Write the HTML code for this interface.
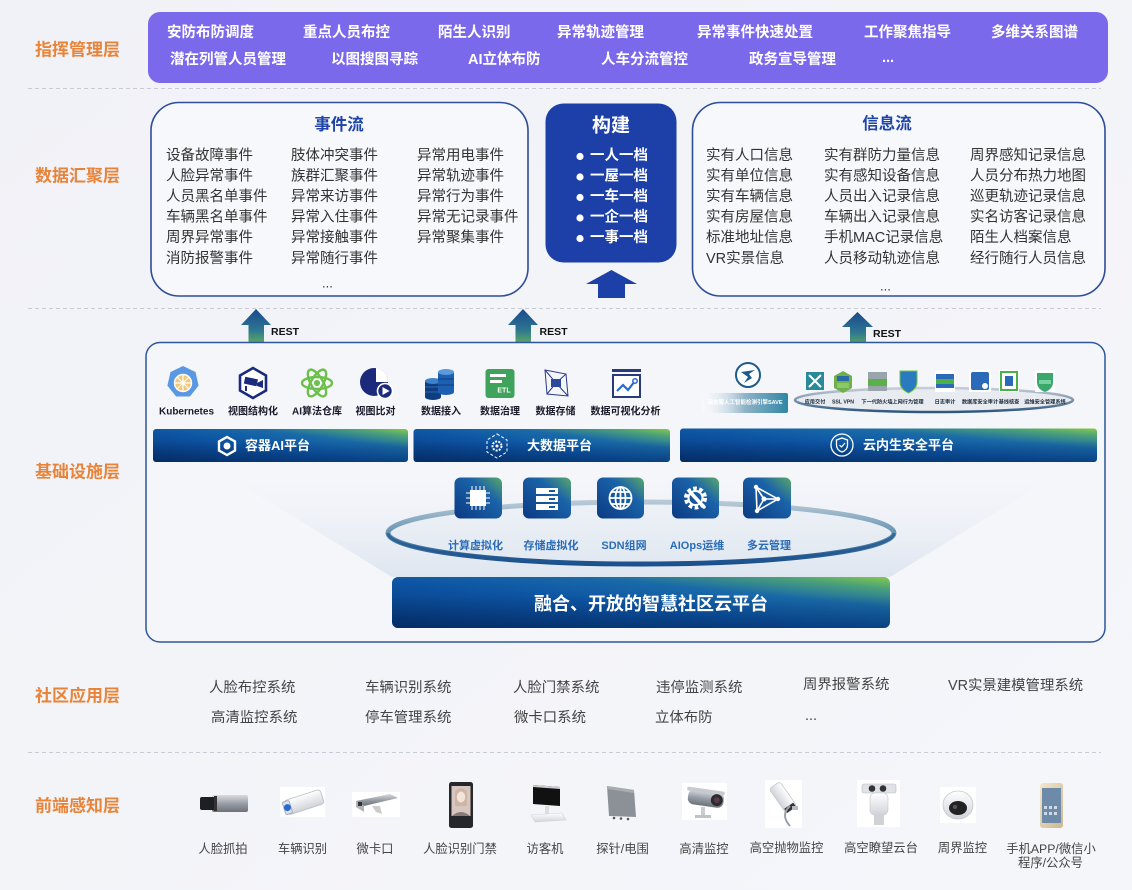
<!DOCTYPE html>
<html><head><meta charset="utf-8">
<style>
html,body{margin:0;padding:0;background:#f3f4f9;}
svg{display:block;font-family:"Liberation Sans","Noto Sans CJK SC",sans-serif;}
</style></head>
<body>
<svg width="1132" height="890" viewBox="0 0 1132 890" xmlns="http://www.w3.org/2000/svg">
<defs>
<linearGradient id="bg" x1="0" y1="0" x2="1" y2="1"><stop offset="0" stop-color="#f1f2f7"/><stop offset="1" stop-color="#f5f6fa"/></linearGradient>
<linearGradient id="restG" x1="0" y1="0" x2="0" y2="1"><stop offset="0" stop-color="#1a4a8e"/><stop offset="0.5" stop-color="#2c7590"/><stop offset="1" stop-color="#74c24c"/></linearGradient>
<linearGradient id="barG" x1="0" y1="1" x2="1" y2="0"><stop offset="0" stop-color="#073678"/><stop offset="0.45" stop-color="#0d54a3"/><stop offset="0.7" stop-color="#1a6aa8"/><stop offset="0.88" stop-color="#4aa07a"/><stop offset="1" stop-color="#86c94c"/></linearGradient>
<linearGradient id="barShade" x1="0" y1="0" x2="0" y2="1"><stop offset="0.35" stop-color="#001a45" stop-opacity="0"/><stop offset="1" stop-color="#001a45" stop-opacity="0.35"/></linearGradient>
<linearGradient id="sqG" x1="1" y1="0" x2="0" y2="1"><stop offset="0" stop-color="#5aa868"/><stop offset="0.35" stop-color="#1b63a9"/><stop offset="1" stop-color="#0b3a82"/></linearGradient>
<linearGradient id="ringS" x1="0" y1="0" x2="0" y2="1"><stop offset="0" stop-color="#b8c9d6"/><stop offset="0.55" stop-color="#5e8fae"/><stop offset="1" stop-color="#184c8a"/></linearGradient>
<linearGradient id="ringF" x1="0" y1="0" x2="0" y2="1"><stop offset="0" stop-color="#eef2f7"/><stop offset="1" stop-color="#e1e8f1"/></linearGradient>
<linearGradient id="fanG" x1="0" y1="0" x2="0" y2="1"><stop offset="0" stop-color="#e8edf5" stop-opacity="0"/><stop offset="1" stop-color="#d6e0ec" stop-opacity="0.75"/></linearGradient>
<linearGradient id="secS" x1="0" y1="0" x2="0" y2="1"><stop offset="0" stop-color="#c5ced8"/><stop offset="1" stop-color="#2e5880"/></linearGradient>
<linearGradient id="saveG" x1="0" y1="0" x2="1" y2="0"><stop offset="0" stop-color="#ffffff" stop-opacity="0.2"/><stop offset="0.5" stop-color="#8fb3c8"/><stop offset="1" stop-color="#2f86a6"/></linearGradient>
<linearGradient id="silver" x1="0" y1="0" x2="0" y2="1"><stop offset="0" stop-color="#d8dbe0"/><stop offset="0.5" stop-color="#9a9fa7"/><stop offset="1" stop-color="#6d727a"/></linearGradient>
<linearGradient id="white" x1="0" y1="0" x2="0" y2="1"><stop offset="0" stop-color="#ffffff"/><stop offset="1" stop-color="#cfd3d9"/></linearGradient>
<linearGradient id="gold" x1="0" y1="0" x2="1" y2="1"><stop offset="0" stop-color="#f2e6cf"/><stop offset="1" stop-color="#cdb88f"/></linearGradient>
</defs>

<rect x="0" y="0" width="1132" height="890" fill="url(#bg)"/>

<g stroke="#c9ccd4" stroke-width="1" stroke-dasharray="4 3">
<line x1="28" y1="88.5" x2="1101" y2="88.5"/>
<line x1="28" y1="308.5" x2="1101" y2="308.5"/>
<line x1="28" y1="752.5" x2="1101" y2="752.5"/>
</g>

<g fill="#e8843a" font-size="17" font-weight="bold" dominant-baseline="central">
<text x="35" y="50">指挥管理层</text>
<text x="35" y="176">数据汇聚层</text>
<text x="35" y="472">基础设施层</text>
<text x="35" y="696">社区应用层</text>
<text x="35" y="806">前端感知层</text>
</g>

<rect x="148" y="12" width="960" height="71" rx="12" fill="#7b69eb"/>
<g fill="#ffffff" font-size="14.5" font-weight="bold" dominant-baseline="central">
<text x="167" y="33">安防布防调度</text>
<text x="303" y="33">重点人员布控</text>
<text x="438" y="33">陌生人识别</text>
<text x="557" y="33">异常轨迹管理</text>
<text x="697" y="33">异常事件快速处置</text>
<text x="864" y="33">工作聚焦指导</text>
<text x="991" y="33">多维关系图谱</text>
<text x="170" y="60">潜在列管人员管理</text>
<text x="331" y="60">以图搜图寻踪</text>
<text x="468" y="60">AI立体布防</text>
<text x="601" y="60">人车分流管控</text>
<text x="749" y="60">政务宣导管理</text>
<text x="882" y="58">...</text>
</g>

<rect x="151" y="102.5" width="377" height="193.5" rx="28" fill="#f7f8fc" stroke="#2f4d98" stroke-width="1.6"/>
<text x="339" y="125" fill="#1f45a8" font-size="16.5" font-weight="bold" text-anchor="middle" dominant-baseline="central">事件流</text>
<g fill="#333" font-size="14.5" dominant-baseline="central">
<text x="166" y="156">设备故障事件</text><text x="166" y="176.5">人脸异常事件</text><text x="166" y="197">人员黑名单事件</text><text x="166" y="217.5">车辆黑名单事件</text><text x="166" y="238">周界异常事件</text><text x="166" y="259">消防报警事件</text>
<text x="291" y="156">肢体冲突事件</text><text x="291" y="176.5">族群汇聚事件</text><text x="291" y="197">异常来访事件</text><text x="291" y="217.5">异常入住事件</text><text x="291" y="238">异常接触事件</text><text x="291" y="259">异常随行事件</text>
<text x="417" y="156">异常用电事件</text><text x="417" y="176.5">异常轨迹事件</text><text x="417" y="197">异常行为事件</text><text x="417" y="217.5">异常无记录事件</text><text x="417" y="238">异常聚集事件</text>
<text x="322" y="283" font-size="13">...</text>
</g>

<rect x="545.5" y="103.5" width="131" height="159" rx="18" fill="#1d3fa8"/>
<text x="611" y="126" fill="#fff" font-size="19" font-weight="bold" text-anchor="middle" dominant-baseline="central">构建</text>
<g fill="#fff">
<circle cx="580" cy="156.5" r="3.6"/><circle cx="580" cy="177" r="3.6"/><circle cx="580" cy="197.5" r="3.6"/><circle cx="580" cy="218" r="3.6"/><circle cx="580" cy="238.5" r="3.6"/>
</g>
<g fill="#fff" font-size="14.5" font-weight="bold" dominant-baseline="central">
<text x="590" y="156">一人一档</text><text x="590" y="176.5">一屋一档</text><text x="590" y="197">一车一档</text><text x="590" y="217.5">一企一档</text><text x="590" y="238">一事一档</text>
</g>
<polygon points="611.5,270 637,284 625,284 625,298 598,298 598,284 586,284" fill="#1d3fa8"/>

<rect x="692.5" y="102.5" width="412.5" height="193.5" rx="28" fill="#f7f8fc" stroke="#2f4d98" stroke-width="1.6"/>
<text x="887" y="124" fill="#1f45a8" font-size="16.5" font-weight="bold" text-anchor="middle" dominant-baseline="central">信息流</text>
<g fill="#333" font-size="14.5" dominant-baseline="central">
<text x="706" y="156">实有人口信息</text><text x="706" y="176.5">实有单位信息</text><text x="706" y="197">实有车辆信息</text><text x="706" y="217.5">实有房屋信息</text><text x="706" y="238">标准地址信息</text><text x="706" y="259">VR实景信息</text>
<text x="824" y="156">实有群防力量信息</text><text x="824" y="176.5">实有感知设备信息</text><text x="824" y="197">人员出入记录信息</text><text x="824" y="217.5">车辆出入记录信息</text><text x="824" y="238">手机MAC记录信息</text><text x="824" y="259">人员移动轨迹信息</text>
<text x="970" y="156">周界感知记录信息</text><text x="970" y="176.5">人员分布热力地图</text><text x="970" y="197">巡更轨迹记录信息</text><text x="970" y="217.5">实名访客记录信息</text><text x="970" y="238">陌生人档案信息</text><text x="970" y="259">经行随行人员信息</text>
<text x="880" y="286" font-size="13">...</text>
</g>

<polygon points="256,309 271,325 264,325 264,350 248.5,350 248.5,325 241,325" fill="url(#restG)"/>
<polygon points="523,309 538,325 531,325 531,350 515.5,350 515.5,325 508,325" fill="url(#restG)"/>
<polygon points="857.5,312 873,327 866,327 866,352 850,352 850,327 842,327" fill="url(#restG)"/>
<g fill="#111" font-size="10.5" font-weight="bold" dominant-baseline="central">
<text x="271" y="332">REST</text><text x="539.5" y="332">REST</text><text x="873" y="334">REST</text>
</g>

<rect x="146" y="342.5" width="959" height="299.5" rx="14" fill="#f5f6fa" stroke="#2d5798" stroke-width="1.5"/>

<polygon points="183,366 195.5,372 198.6,385.6 189.9,396.5 176.1,396.5 167.4,385.6 170.5,372" fill="#5a98e4"/>
<circle cx="183" cy="383" r="8.5" fill="#f3c77a" stroke="#fff" stroke-width="1.4"/>
<g stroke="#fff" stroke-width="1.2"><line x1="183" y1="374" x2="183" y2="392"/><line x1="174" y1="383" x2="192" y2="383"/><line x1="177" y1="377" x2="189" y2="389"/><line x1="189" y1="377" x2="177" y2="389"/></g>
<polygon points="253,368 266,375.5 266,390.5 253,398 240,390.5 240,375.5" fill="#fff" stroke="#1b2a7a" stroke-width="2.6"/>
<rect x="244.5" y="378" width="13" height="7" fill="#1b2a7a" transform="rotate(12 251 381)"/>
<polygon points="257,383 263,380 263,388 257,386" fill="#1b2a7a"/>
<rect x="245" y="386" width="2" height="5" fill="#1b2a7a"/>
<g fill="none" stroke="#6cc04a" stroke-width="2.4">
<ellipse cx="317" cy="383" rx="15" ry="6"/>
<ellipse cx="317" cy="383" rx="15" ry="6" transform="rotate(60 317 383)"/>
<ellipse cx="317" cy="383" rx="15" ry="6" transform="rotate(120 317 383)"/>
</g>
<circle cx="317" cy="383" r="3" fill="#6cc04a"/>
<circle cx="374" cy="382" r="14" fill="#1b2a7a"/>
<path d="M376,368 A14,14 0 0 1 388,382 L376,382 Z" fill="#fff"/>
<circle cx="385" cy="391" r="7.5" fill="#1b2a7a" stroke="#fff" stroke-width="1.6"/>
<polygon points="382.5,387 389.5,391 382.5,395" fill="#fff"/>
<g>
<rect x="425" y="381" width="16" height="16" fill="#0f3d80"/><ellipse cx="433" cy="397" rx="8" ry="3" fill="#0f3d80"/><ellipse cx="433" cy="381" rx="8" ry="3" fill="#3e82cc"/>
<line x1="425" y1="387" x2="441" y2="387" stroke="#2a6ab8" stroke-width="1"/><line x1="425" y1="392" x2="441" y2="392" stroke="#2a6ab8" stroke-width="1"/>
<rect x="438" y="372" width="16" height="20" fill="#1d5fb0"/><ellipse cx="446" cy="392" rx="8" ry="3" fill="#1d5fb0"/><ellipse cx="446" cy="372" rx="8" ry="3" fill="#5a9ade"/>
<line x1="438" y1="379" x2="454" y2="379" stroke="#0f3d80" stroke-width="1"/><line x1="438" y1="385" x2="454" y2="385" stroke="#0f3d80" stroke-width="1"/>
</g>
<rect x="485.5" y="369" width="29" height="29" rx="3" fill="#3fa35c"/>
<rect x="490" y="374" width="16" height="3" fill="#fff"/><rect x="490" y="380" width="12" height="3" fill="#fff"/>
<text x="504" y="391" fill="#fff" font-size="7" font-weight="bold" text-anchor="middle" dominant-baseline="central">ETL</text>
<g stroke="#2a3a8a" stroke-width="1" fill="none">
<polygon points="545,370 566,374 568,396 547,394"/><line x1="545" y1="370" x2="556" y2="383"/><line x1="566" y1="374" x2="556" y2="383"/><line x1="568" y1="396" x2="556" y2="383"/><line x1="547" y1="394" x2="556" y2="383"/>
</g>
<rect x="551" y="379" width="10" height="8" fill="#2a4a9a"/>
<rect x="612" y="369" width="29" height="3" fill="#2a3a7a"/>
<rect x="613" y="375" width="27" height="22" fill="#fff" stroke="#2a3a7a" stroke-width="2"/>
<polyline points="617,391 623,385 628,390 635,381" fill="none" stroke="#2a6ad0" stroke-width="2.2"/>
<circle cx="635" cy="381" r="2.2" fill="#fff" stroke="#2a6ad0" stroke-width="1.5"/>

<g fill="#1a1a2a" font-size="10" font-weight="bold" text-anchor="middle" dominant-baseline="central">
<text x="186.5" y="412">Kubernetes</text><text x="253" y="412">视图结构化</text><text x="317" y="412">AI算法仓库</text><text x="375.5" y="412">视图比对</text>
<text x="441" y="412">数据接入</text><text x="500" y="412">数据治理</text><text x="555.5" y="412">数据存储</text><text x="625.5" y="412">数据可视化分析</text>
</g>

<circle cx="748" cy="375" r="12" fill="#fff" stroke="#1e5a8a" stroke-width="2"/>
<path d="M741,372 L755,370 L749,374 L752,378 L744,383 L748,377 Z" fill="#1e5a8a"/>
<rect x="702" y="393" width="86" height="20" rx="2" fill="url(#saveG)"/>
<text x="745" y="403" fill="#fff" font-size="5.5" font-weight="bold" text-anchor="middle" dominant-baseline="central">深信服人工智能检测引擎SAVE</text>
<ellipse cx="934" cy="400" rx="139" ry="12" fill="#e8ecf1" stroke="url(#secS)" stroke-width="2.5"/>
<g>
<rect x="806" y="372" width="18" height="18" fill="#2a8a9c"/><path d="M809,375 L821,387 M821,375 L809,387" stroke="#fff" stroke-width="2"/>
<polygon points="843,371 852,376 852,388 843,393 834,388 834,376" fill="#6fb04a"/><rect x="837" y="376" width="12" height="5" fill="#2a6aa8"/><rect x="837" y="383" width="12" height="5" fill="#8ac868"/>
<rect x="868" y="372" width="19" height="19" fill="#9aa4ac"/><rect x="868" y="379" width="19" height="7" fill="#5cb04a"/>
<path d="M900,371 L917,371 L917,382 Q917,389 908.5,393 Q900,389 900,382 Z" fill="#2a7ac0" stroke="#6cc04a" stroke-width="1"/>
<rect x="935" y="370" width="20" height="22" fill="#fff"/><rect x="936" y="374" width="18" height="14" fill="#2a6ab8"/><rect x="936" y="379" width="18" height="5" fill="#4cb04a"/>
<rect x="969" y="370" width="22" height="22" fill="#fff"/><rect x="971" y="372" width="18" height="18" rx="2" fill="#2a6ab8"/><circle cx="985" cy="386" r="3.5" fill="#fff" stroke="#2a6ab8"/>
<rect x="999" y="370" width="20" height="22" fill="#fff"/><rect x="1001" y="372" width="16" height="18" fill="none" stroke="#4cb04a" stroke-width="2"/><rect x="1005" y="376" width="8" height="10" fill="#2a6ab8"/>
<rect x="1035" y="370" width="20" height="22" fill="#fff"/><path d="M1037,373 L1053,373 L1053,382 Q1053,389 1045,392 Q1037,389 1037,382 Z" fill="#3aa86a"/><rect x="1039" y="380" width="12" height="4" fill="#7ad0a0"/>
</g>
<g fill="#1a2a3a" font-size="5.2" font-weight="bold" text-anchor="middle" dominant-baseline="central">
<text x="815" y="402.5">应用交付</text><text x="843" y="402.5">SSL VPN</text><text x="877" y="402.5">下一代防火墙</text><text x="908" y="402.5">上网行为管理</text>
<text x="945" y="402.5">日志审计</text><text x="980" y="402.5">数据库安全审计</text><text x="1009" y="402.5">基线核查</text><text x="1045" y="402.5">运维安全管理系统</text>
</g>

<g>
<rect x="153" y="429" width="255" height="33" rx="3" fill="url(#barG)"/><rect x="153" y="429" width="255" height="33" rx="3" fill="url(#barShade)"/>
<rect x="413.5" y="429" width="256.5" height="33" rx="3" fill="url(#barG)"/><rect x="413.5" y="429" width="256.5" height="33" rx="3" fill="url(#barShade)"/>
<rect x="680" y="428.5" width="417" height="33.5" rx="3" fill="url(#barG)"/><rect x="680" y="428.5" width="417" height="33.5" rx="3" fill="url(#barShade)"/>
</g>
<polygon points="227,437 235,441.5 235,450.5 227,455 219,450.5 219,441.5" fill="none" stroke="#fff" stroke-width="2.4"/>
<circle cx="227" cy="446" r="3.5" fill="#fff"/>
<polygon points="497,434 507,440 507,452 497,458 487,452 487,440" fill="none" stroke="#fff" stroke-width="1" stroke-dasharray="3 2"/>
<circle cx="497" cy="446" r="4.5" fill="none" stroke="#fff" stroke-width="2" stroke-dasharray="2 1.2"/><circle cx="497" cy="446" r="1.5" fill="#fff"/>
<circle cx="842" cy="445" r="11" fill="none" stroke="#fff" stroke-width="1.3"/>
<path d="M836.5,440 L842,438 L847.5,440 L847.5,445 Q847.5,450 842,452 Q836.5,450 836.5,445 Z" fill="none" stroke="#fff" stroke-width="1.3"/>
<path d="M839.5,445 L841.5,447 L845,443" fill="none" stroke="#fff" stroke-width="1.2"/>
<g fill="#fff" font-size="13" font-weight="bold" dominant-baseline="central">
<text x="245" y="445.5">容器AI平台</text><text x="527" y="445.5">大数据平台</text><text x="863" y="445">云内生安全平台</text>
</g>

<polygon points="230,478 1052,478 890,577 392,577" fill="url(#fanG)"/>
<ellipse cx="641" cy="533" rx="253" ry="31" fill="url(#ringF)" stroke="url(#ringS)" stroke-width="5"/>
<path d="M388,533 A253,31 0 0 0 894,533" fill="none" stroke="#1e5690" stroke-width="3" opacity="0.7"/>
<g>
<rect x="454.5" y="477.5" width="47.5" height="41" rx="6" fill="url(#sqG)"/>
<rect x="523" y="477.5" width="48" height="41" rx="6" fill="url(#sqG)"/>
<rect x="597" y="477.5" width="47" height="41" rx="6" fill="url(#sqG)"/>
<rect x="672" y="477.5" width="47" height="41" rx="6" fill="url(#sqG)"/>
<rect x="743" y="477.5" width="48" height="41" rx="6" fill="url(#sqG)"/>
</g>
<rect x="470" y="490" width="16" height="16" fill="#fff"/>
<g stroke="#fff" stroke-width="1"><line x1="472" y1="486" x2="472" y2="510"/><line x1="476" y1="486" x2="476" y2="510"/><line x1="480" y1="486" x2="480" y2="510"/><line x1="484" y1="486" x2="484" y2="510"/><line x1="466" y1="493" x2="490" y2="493"/><line x1="466" y1="498" x2="490" y2="498"/><line x1="466" y1="503" x2="490" y2="503"/></g>
<rect x="472" y="492" width="12" height="12" fill="#fff"/>
<g fill="#fff"><rect x="536" y="488" width="22" height="6"/><rect x="536" y="496" width="22" height="6"/><rect x="536" y="504" width="22" height="6"/></g>
<g fill="#1b5aa0"><rect x="549" y="490" width="6" height="2"/><rect x="549" y="498" width="6" height="2"/><rect x="549" y="506" width="6" height="2"/></g>
<g fill="none" stroke="#fff" stroke-width="1.8"><circle cx="620.5" cy="498" r="11"/><ellipse cx="620.5" cy="498" rx="5" ry="11"/><line x1="609.5" y1="498" x2="631.5" y2="498"/><line x1="611" y1="492" x2="630" y2="492"/><line x1="611" y1="504" x2="630" y2="504"/><line x1="620.5" y1="487" x2="620.5" y2="509"/></g>
<circle cx="695.5" cy="498" r="9" fill="none" stroke="#fff" stroke-width="5" stroke-dasharray="3.5 2.2"/>
<circle cx="695.5" cy="498" r="7" fill="none" stroke="#fff" stroke-width="2"/>
<line x1="690" y1="492" x2="704" y2="507" stroke="#fff" stroke-width="3.5" stroke-linecap="round"/>
<g stroke="#fff" stroke-width="1.6" fill="none"><polygon points="756,487 778,499 757,511"/><line x1="756" y1="487" x2="764" y2="499"/><line x1="778" y1="499" x2="764" y2="499"/><line x1="757" y1="511" x2="764" y2="499"/></g>
<g fill="#fff"><circle cx="756" cy="487" r="2.2"/><circle cx="778" cy="499" r="2.2"/><circle cx="757" cy="511" r="2.2"/><circle cx="764" cy="499" r="2.5"/></g>
<g fill="#2b6cb8" font-size="11" font-weight="bold" text-anchor="middle" dominant-baseline="central">
<text x="475.5" y="546">计算虚拟化</text><text x="551" y="546">存储虚拟化</text><text x="624" y="546">SDN组网</text><text x="697" y="546">AIOps运维</text><text x="769" y="546">多云管理</text>
</g>
<rect x="392" y="577" width="498" height="51" rx="6" fill="url(#barG)"/>
<rect x="392" y="577" width="498" height="51" rx="6" fill="url(#barShade)"/>
<text x="651" y="604" fill="#fff" font-size="18" font-weight="bold" text-anchor="middle" dominant-baseline="central">融合、开放的智慧社区云平台</text>

<g fill="#444" font-size="14.4" dominant-baseline="central">
<text x="209" y="688">人脸布控系统</text><text x="365" y="688">车辆识别系统</text><text x="513" y="688">人脸门禁系统</text><text x="656" y="688">违停监测系统</text><text x="803" y="685">周界报警系统</text><text x="948" y="686">VR实景建模管理系统</text>
<text x="211" y="718">高清监控系统</text><text x="365" y="718">停车管理系统</text><text x="514" y="718">微卡口系统</text><text x="655" y="718">立体布防</text><text x="805" y="716">...</text>
</g>

<rect x="212" y="795" width="36" height="17" rx="2" fill="url(#silver)"/>
<rect x="200" y="797" width="15" height="13" rx="2" fill="#1e1f22"/>
<rect x="214" y="796" width="3" height="15" fill="#333"/>
<rect x="280" y="787" width="45" height="30" fill="#fff"/>
<g transform="rotate(-18 303 802)"><rect x="285" y="795" width="38" height="15" rx="3" fill="url(#white)" stroke="#b9bec6" stroke-width="0.8"/><rect x="283" y="796" width="7" height="13" rx="1.5" fill="#dfe3e8" stroke="#aab"/><circle cx="286.5" cy="802.5" r="3.5" fill="#2a6ad0"/></g>
<rect x="352" y="792" width="48" height="25" fill="#fff"/>
<polygon points="356,801 390,794 398,798 364,806" fill="url(#silver)"/>
<polygon points="356,801 364,806 364,812 356,807" fill="#b0b4ba"/>
<rect x="358" y="802" width="4" height="4" fill="#333"/>
<polygon points="372,806 380,806 382,814 376,812" fill="#ccc"/>
<rect x="449" y="782" width="24" height="46" rx="2.5" fill="#26272b"/>
<rect x="451.5" y="786" width="19" height="30" fill="#d8c7c0"/>
<path d="M455,791 Q461,786 467,791 L467,806 L455,806 Z" fill="#c9a88f" opacity="0.6"/>
<ellipse cx="461" cy="797" rx="4.2" ry="5.5" fill="#f3e3d9"/>
<path d="M452,816 Q461,808 470,816 Z" fill="#8a7a78"/>
<polygon points="533,785 560,787 560,806 533,804" fill="#111"/>
<polygon points="533,785 560,787 560,789 533,787" fill="#ccc"/>
<rect x="545" y="806" width="4" height="8" fill="#ddd"/>
<polygon points="531,815 562,813 566,820 535,822" fill="url(#white)" stroke="#cfd3d8" stroke-width="0.6"/>
<polygon points="607,786 634,790 636,817 609,816" fill="#8c9197"/>
<polygon points="607,786 634,790 634,793 607,789" fill="#a9adb2"/>
<g fill="#555"><circle cx="614" cy="818" r="1.3"/><circle cx="621" cy="818.5" r="1.3"/><circle cx="628" cy="819" r="1.3"/></g>
<rect x="682" y="783" width="45" height="37" fill="#fff"/>
<g transform="rotate(8 705 798)"><rect x="688" y="791" width="36" height="15" rx="6" fill="url(#silver)"/><rect x="686" y="789" width="38" height="4" rx="2" fill="#c7cbd0"/><circle cx="717" cy="798.5" r="6" fill="#2a2c30"/><circle cx="717" cy="798.5" r="3" fill="#5a3a4a"/></g>
<rect x="701" y="807" width="4" height="9" fill="#c9cdd2"/><rect x="695" y="815" width="16" height="3" fill="#bfc3c8"/>
<rect x="765" y="780" width="37" height="48" fill="#fff"/>
<g transform="rotate(55 782 797)"><rect x="768" y="790" width="30" height="13" rx="3" fill="url(#white)" stroke="#c6cad0" stroke-width="0.8"/><rect x="793" y="791" width="5" height="11" fill="#333"/></g>
<path d="M790,806 Q780,815 790,826" fill="none" stroke="#9aa0a7" stroke-width="2"/>
<rect x="792" y="806" width="6" height="4" fill="#b9bdc2"/>
<rect x="857" y="780" width="43" height="47" fill="#fff"/>
<rect x="862" y="784" width="34" height="9" rx="2" fill="#dfe2e6" stroke="#b7bbc1" stroke-width="0.6"/>
<circle cx="872" cy="788.5" r="3.3" fill="#333"/><circle cx="883" cy="788.5" r="3.3" fill="#333"/>
<rect x="870" y="793" width="18" height="22" rx="5" fill="url(#white)" stroke="#c4c8ce" stroke-width="0.6"/>
<rect x="874" y="814" width="10" height="11" fill="#cfd3d8"/>
<rect x="940" y="787" width="36" height="36" fill="#fff"/>
<ellipse cx="958" cy="805" rx="15" ry="14" fill="url(#white)" stroke="#c4c8ce" stroke-width="0.8"/>
<ellipse cx="958" cy="808" rx="9" ry="7" fill="#222"/>
<circle cx="955" cy="807" r="2.2" fill="#555"/>
<rect x="1040" y="783" width="23" height="45" rx="3" fill="url(#gold)"/>
<rect x="1042" y="788" width="19" height="35" fill="#6d8aa8"/>
<g fill="#e9eef5" opacity="0.8"><rect x="1044" y="806" width="3" height="3"/><rect x="1049" y="806" width="3" height="3"/><rect x="1054" y="806" width="3" height="3"/><rect x="1044" y="812" width="3" height="3"/><rect x="1049" y="812" width="3" height="3"/><rect x="1054" y="812" width="3" height="3"/></g>

<g fill="#444" font-size="12.3" text-anchor="middle" dominant-baseline="central">
<text x="223" y="849">人脸抓拍</text><text x="302.5" y="849">车辆识别</text><text x="375" y="849">微卡口</text><text x="460" y="849">人脸识别门禁</text>
<text x="545" y="849">访客机</text><text x="622.5" y="849">探针/电围</text><text x="704" y="849">高清监控</text><text x="786.5" y="848">高空抛物监控</text>
<text x="881" y="848">高空瞭望云台</text><text x="962.5" y="848">周界监控</text><text x="1051" y="849">手机APP/微信小</text><text x="1050.5" y="863">程序/公众号</text>
</g>
</svg>
</body></html>
